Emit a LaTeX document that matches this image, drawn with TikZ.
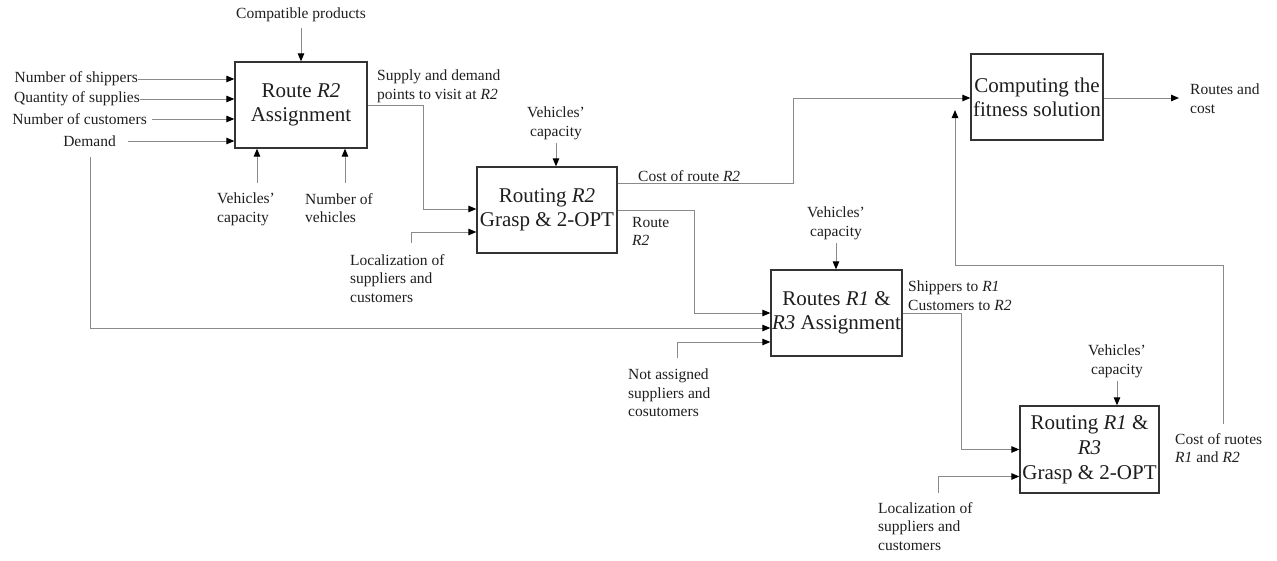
\documentclass[tikz,border=0pt]{standalone}
\usepackage{fontspec}
\setmainfont{Liberation Serif}
\usetikzlibrary{arrows.meta,calc}
\definecolor{linec}{HTML}{8A8A8A}
\definecolor{boxc}{HTML}{333333}
\definecolor{txt}{HTML}{1E1E1E}
\begin{document}
\begin{tikzpicture}[x=1pt,y=-1pt,
 box/.style={draw=boxc,line width=1.3pt,align=center,inner sep=0pt,text=txt,font=\fontsize{21}{24}\selectfont},
 lbl/.style={inner sep=0pt,text=txt,font=\fontsize{15.5}{18.5}\selectfont},
 conn/.style={draw=linec,line width=1pt,-{Triangle[length=8pt,width=6.5pt,color=black]}}]
\useasboundingbox (0,0) rectangle (1277,560);
% boxes
\node[box,minimum width=132pt,minimum height=86pt] (b1) at (301,105) {Route \textit{R2}\\Assignment};
\node[box,minimum width=140pt,minimum height=86pt] (b2) at (547,210) {Routing \textit{R2}\\Grasp \& 2-OPT};
\node[box,minimum width=131pt,minimum height=86pt] (b3) at (836.5,313) {Routes \textit{R1} \&\\\textit{R3} Assignment};
\node[box,minimum width=132pt,minimum height=86pt] (b4) at (1037,97) {Computing the\\fitness solution};
\node[box,minimum width=139pt,minimum height=87pt,font=\fontsize{21}{25}\selectfont] (b5) at (1089.5,449.5) {Routing \textit{R1} \&\\\textit{R3}\\Grasp \& 2-OPT};
% box 1 inputs
\node[lbl] (cp) at (301,15) {Compatible products};
\draw[conn,shorten <=6pt] (cp) -- (cp |- b1.north);
\node[lbl,anchor=east] (ns) at (138,79) {Number of shippers};
\node[lbl,anchor=east] (qs) at (140,99) {Quantity of supplies};
\node[lbl,anchor=east] (nc) at (147,119) {Number of customers};
\node[lbl,anchor=east] (dm) at (116,141) {Demand};
\draw[conn] (ns.east) -- (ns.east -| b1.west);
\draw[conn] (qs.east) -- (qs.east -| b1.west);
\draw[conn,shorten <=5pt] (nc.east) -- (nc.east -| b1.west);
\draw[conn,shorten <=12pt] (dm.east) -- (dm.east -| b1.west);
\node[lbl,anchor=north west,align=left] (vc1) at (217,193) {Vehicles’\\capacity};
\node[lbl,anchor=north west,align=left] (nv) at (305,193) {Number of\\vehicles};
\coordinate (v1) at (257,183);
\coordinate (v2) at (345,183);
\draw[conn] (v1) -- (v1 |- b1.south);
\draw[conn] (v2) -- (v2 |- b1.south);
% demand to box 3
\coordinate (dd) at (90,157);
\draw[conn] (dd) |- ($(b3.west)+(0,15)$);
% box 1 output
\node[lbl,anchor=north west,align=left] (sd) at (377,70) {Supply and demand\\points to visit at \textit{R2}};
\draw[conn] (b1.east) -- ++(56,0) |- ($(b2.west)+(0,-1)$);
% box 2
\node[lbl,align=center,anchor=north] (vc2) at (556,107) {Vehicles’\\capacity};
\draw[conn,shorten <=3pt] (vc2) -- (vc2 |- b2.north);
\node[lbl,anchor=north west,align=left] (loc1) at (350,254) {Localization of\\suppliers and\\customers};
\coordinate (l1) at (411,243);
\draw[conn] (l1) |- ($(b2.west)+(0,22)$);
\node[lbl,anchor=north west] (cr) at (638,170) {Cost of route \textit{R2}};
\draw[conn] ($(b2.east)+(0,-27)$) -- ++(176,0) |- ($(b4.west)+(0,1)$);
\node[lbl,anchor=north west,align=left] (rr2) at (632,217) {Route\\\textit{R2}};
\draw[conn] (b2.east) -- ++(77,0) |- (b3.west);
% box 3
\node[lbl,align=center,anchor=north] (vc3) at (836,207) {Vehicles’\\capacity};
\draw[conn,shorten <=3pt] (vc3) -- (vc3 |- b3.north);
\node[lbl,anchor=north west,align=left] (na) at (628,369) {Not assigned\\suppliers and\\cosutomers};
\coordinate (n1) at (677,358);
\draw[conn] (n1) |- ($(b3.west)+(0,29)$);
\node[lbl,anchor=north west,align=left] (sh) at (908,281) {Shippers to \textit{R1}\\Customers to \textit{R2}};
\draw[conn] (b3.east) -- ++(59,0) |- (b5.west);
% box 5
\node[lbl,align=center,anchor=north] (vc5) at (1117,345) {Vehicles’\\capacity};
\draw[conn,shorten <=3pt] (vc5) -- (vc5 |- b5.north);
\node[lbl,anchor=north west,align=left] (loc2) at (878,502) {Localization of\\suppliers and\\customers};
\coordinate (l2) at (938,493);
\draw[conn] (l2) |- ($(b5.west)+(0,27)$);
\node[lbl,anchor=north west,align=left] (cr2) at (1175,433) {Cost of ruotes\\\textit{R1} and \textit{R2}};
\coordinate (c1) at (1223,424);
\coordinate (c2) at (955,110);
\draw[conn] (c1) -- ++(0,-159) -| (c2);
% box 4 output
\node[lbl,anchor=north west,align=left] (rc) at (1190,84) {Routes and\\cost};
\coordinate (o1) at (1179,98);
\draw[conn] (b4.east |- o1) -- (o1);
\end{tikzpicture}
\end{document}
